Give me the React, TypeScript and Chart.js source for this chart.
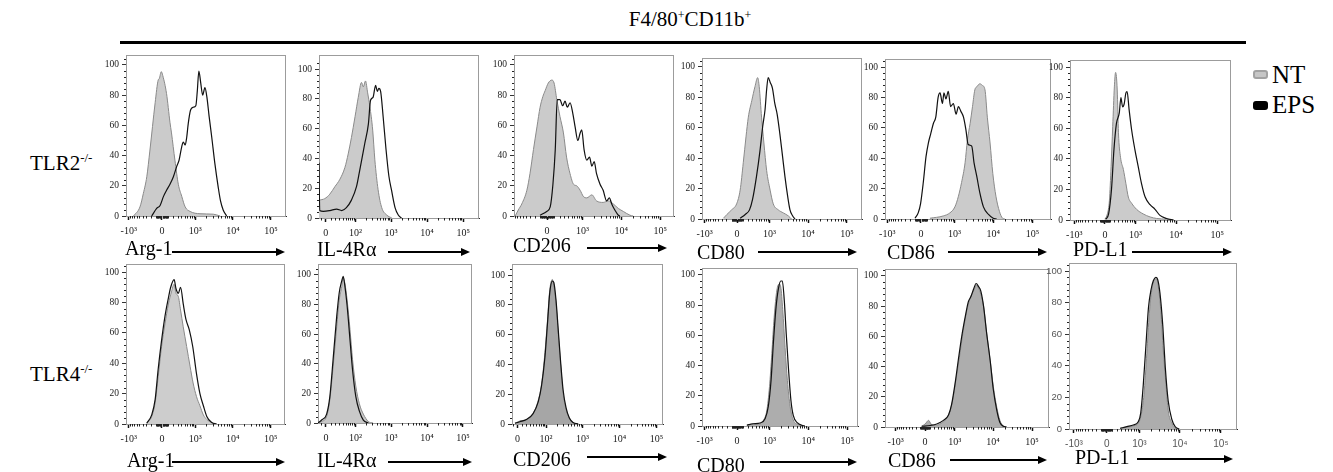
import React, { useEffect, useRef } from "react";
import { Chart, registerables } from "chart.js";

Chart.register(...registerables);

type Pt = [number, number];

// x values are in biexponential display decades (asinh(v / cofactor) / ln10), y = % of max
// ---------- TLR2-/- row ----------
const TLR2_ARG1_NT: Pt[] = [[-0.75,0],[-0.58,6],[-0.49,15],[-0.40,26],[-0.32,43],[-0.18,75],[-0.10,90],[-0.07,91],[-0.02,95.6],[0.02,93],[0.12,81],[0.21,62],[0.25,55],[0.34,37],[0.43,21],[0.52,13],[0.61,6],[0.74,3],[1.0,1.5],[1.35,1.2],[1.53,0]];
const TLR2_ARG1_EPS: Pt[] = [[-0.27,0],[-0.14,5],[-0.05,7],[0.04,13],[0.12,17],[0.21,21],[0.30,26],[0.39,33],[0.45,37],[0.52,46],[0.56,49],[0.61,47],[0.65,52],[0.69,61],[0.75,70],[0.82,72],[0.89,73],[0.93,83],[0.97,96],[1.02,88],[1.07,80],[1.13,85],[1.18,79],[1.24,66],[1.31,52],[1.39,35],[1.48,19],[1.54,10],[1.61,4],[1.70,0]];
const TLR2_IL4RA_NT: Pt[] = [[-0.19,12],[-0.03,13],[0.11,16],[0.25,21],[0.39,26],[0.53,34],[0.62,43],[0.71,54],[0.81,68],[0.90,81],[0.99,91],[1.04,88],[1.10,92],[1.16,84],[1.22,75],[1.30,59],[1.36,39],[1.45,19],[1.55,7],[1.69,2],[1.83,0]];
const TLR2_IL4RA_EPS: Pt[] = [[-0.19,37],[-0.17,5],[-0.07,4.5],[0.11,5],[0.30,6],[0.44,5],[0.57,7],[0.71,12],[0.85,21],[0.94,32],[1.08,50],[1.18,63],[1.24,79],[1.31,81],[1.38,89],[1.43,85],[1.47,87],[1.52,85],[1.59,68],[1.67,46],[1.75,28],[1.82,19],[1.92,7],[2.01,2],[2.10,0]];
const TLR2_CD206_NT: Pt[] = [[-0.82,0],[-0.74,4],[-0.65,8],[-0.52,17],[-0.44,28],[-0.35,44],[-0.26,59],[-0.18,72],[-0.11,79],[-0.05,83],[0.03,88],[0.12,90],[0.18,88],[0.25,77],[0.33,66],[0.42,55],[0.50,39],[0.59,28],[0.68,21],[0.76,20],[0.85,17],[0.93,13],[1.02,12],[1.15,14],[1.27,10],[1.44,9],[1.57,10],[1.70,8],[1.83,5],[1.96,3],[2.13,0.5],[2.21,0]];
const TLR2_CD206_EPS: Pt[] = [[-0.18,0.5],[-0.01,3],[0.08,6],[0.15,21],[0.21,44],[0.26,77],[0.33,77],[0.40,73],[0.46,76],[0.52,72],[0.59,75],[0.66,68],[0.72,59],[0.79,50],[0.85,55],[0.89,57],[0.95,44],[1.02,37],[1.09,39],[1.15,33],[1.21,36],[1.27,28],[1.36,21],[1.44,17],[1.53,10],[1.60,12],[1.66,8],[1.74,4],[1.83,0.5],[1.87,0]];
const TLR2_CD80_NT: Pt[] = [[-0.35,0.5],[-0.26,3],[-0.14,6],[-0.01,10],[0.08,19],[0.16,37],[0.23,54],[0.29,67],[0.38,78],[0.46,87],[0.53,93],[0.57,87],[0.63,67],[0.69,50],[0.76,32],[0.85,19],[0.93,10],[1.06,6],[1.19,4],[1.32,2],[1.40,0]];
const TLR2_CD80_EPS: Pt[] = [[0.08,0.5],[0.21,3],[0.32,6],[0.40,13],[0.50,28],[0.59,45],[0.66,61],[0.72,72],[0.76,85],[0.80,93],[0.85,90],[0.91,86],[0.97,76],[1.03,69],[1.10,56],[1.17,41],[1.23,28],[1.30,15],[1.36,6],[1.43,2],[1.49,0]];
const TLR2_CD86_NT: Pt[] = [[0.23,0.5],[0.57,2],[0.74,4],[0.87,8],[0.96,15],[1.04,24],[1.13,37],[1.19,52],[1.26,63],[1.32,74],[1.38,85],[1.43,87],[1.51,89],[1.57,88],[1.64,85],[1.70,67],[1.77,50],[1.84,30],[1.92,15],[2.01,5],[2.09,0.5],[2.15,0]];
const TLR2_CD86_EPS: Pt[] = [[-0.15,0.5],[-0.07,4],[-0.01,10],[0.06,24],[0.13,41],[0.19,50],[0.25,56],[0.32,63],[0.38,67],[0.44,80],[0.49,83],[0.55,76],[0.59,83],[0.64,79],[0.70,84],[0.76,74],[0.83,76],[0.90,69],[0.96,74],[1.02,71],[1.09,67],[1.15,59],[1.21,49],[1.30,48],[1.36,37],[1.43,28],[1.51,17],[1.60,8],[1.73,3],[1.85,0.5],[1.94,0]];
const TLR2_PDL1_NT: Pt[] = [[0,0.5],[0.06,4],[0.11,13],[0.15,35],[0.19,61],[0.23,87],[0.26,96.5],[0.30,85],[0.33,57],[0.38,41],[0.45,33],[0.51,24],[0.57,15],[0.65,11],[0.77,7],[0.93,4],[1.10,2],[1.26,1],[1.50,0.5],[1.67,0]];
const TLR2_PDL1_EPS: Pt[] = [[0.02,0.5],[0.09,4],[0.16,20],[0.22,46],[0.28,63],[0.35,70],[0.39,80],[0.43,74],[0.47,76],[0.51,83],[0.54,84],[0.59,72],[0.65,59],[0.73,46],[0.81,35],[0.89,24],[0.98,15],[1.10,10],[1.22,7],[1.34,3],[1.50,1],[1.67,0]];

// ---------- TLR4-/- row ----------
const TLR4_ARG1_NT: Pt[] = [[-0.40,0.5],[-0.27,5],[-0.18,14],[-0.10,31],[-0.01,51],[0.08,66],[0.17,79],[0.25,87],[0.32,92],[0.37,86],[0.43,84],[0.49,75],[0.56,64],[0.65,51],[0.74,38],[0.82,27],[0.91,18],[1.00,12],[1.09,6],[1.18,3],[1.31,1],[1.39,0]];
const TLR4_ARG1_EPS: Pt[] = [[-0.40,0.5],[-0.27,6],[-0.18,16],[-0.10,36],[-0.01,55],[0.08,71],[0.17,83],[0.23,90],[0.32,95],[0.37,89],[0.43,86],[0.49,90],[0.56,79],[0.63,69],[0.72,62],[0.81,51],[0.91,33],[1.00,20],[1.09,12],[1.18,5],[1.31,1],[1.44,0]];
const TLR4_IL4RA_NT: Pt[] = [[-0.21,0],[-0.12,1],[0.02,4.5],[0.11,16],[0.20,38],[0.30,65],[0.37,83],[0.44,92],[0.48,98],[0.53,94],[0.59,83],[0.67,63],[0.74,43],[0.83,25],[0.93,13],[1.04,6],[1.18,1],[1.31,0]];
const TLR4_IL4RA_EPS: Pt[] = [[-0.22,0],[-0.12,2],[0.02,6],[0.11,18],[0.20,43],[0.30,72],[0.37,88],[0.44,96],[0.48,99],[0.53,92],[0.59,79],[0.67,56],[0.74,36],[0.83,18],[0.93,8],[1.04,2],[1.18,0]];
const TLR4_CD206_NT: Pt[] = [[-0.07,0.5],[0.06,2],[0.24,3],[0.42,7],[0.56,16],[0.65,27],[0.74,48],[0.81,70],[0.87,90],[0.94,97],[0.98,93],[1.04,81],[1.10,61],[1.16,41],[1.23,21],[1.31,10],[1.40,4],[1.50,1],[1.64,0]];
const TLR4_CD206_EPS: Pt[] = [[-0.07,0.5],[0.06,1.5],[0.24,3],[0.42,7],[0.56,15],[0.65,26],[0.74,45],[0.81,68],[0.87,88],[0.94,96],[0.98,95],[1.04,83],[1.10,63],[1.16,43],[1.23,23],[1.31,11],[1.40,4],[1.50,1],[1.64,0]];
const TLR4_CD80_NT: Pt[] = [[0.25,0.5],[0.42,1.5],[0.55,1],[0.68,4],[0.76,10],[0.83,26],[0.89,48],[0.95,72],[1.02,90],[1.08,94],[1.12,92],[1.17,77],[1.23,52],[1.29,30],[1.36,13],[1.44,4],[1.57,1],[1.70,0]];
const TLR4_CD80_EPS: Pt[] = [[0.25,0.5],[0.42,1.5],[0.59,2],[0.72,5],[0.80,13],[0.87,30],[0.93,55],[1.00,79],[1.06,91],[1.12,96],[1.16,96],[1.21,83],[1.26,61],[1.32,37],[1.38,17],[1.44,7],[1.55,2],[1.66,0.5],[1.74,0]];
const TLR4_CD86_NT: Pt[] = [[-0.09,0.5],[0,2],[0.09,4.4],[0.15,2],[0.26,1],[0.38,2],[0.51,4.4],[0.62,9],[0.71,18],[0.79,31],[0.88,46],[0.98,64],[1.07,77],[1.14,84],[1.20,88],[1.26,91],[1.31,94],[1.37,92],[1.43,88],[1.50,80],[1.58,62],[1.67,44],[1.75,27],[1.84,13],[1.92,4.4],[2.01,0.5],[2.09,0]];
const TLR4_CD86_EPS: Pt[] = [[-0.09,0.5],[0.13,1],[0.30,2],[0.47,4.4],[0.60,8],[0.68,15],[0.77,29],[0.85,44],[0.94,60],[1.03,73],[1.11,83],[1.17,86],[1.24,91],[1.31,95],[1.37,93],[1.43,90],[1.50,80],[1.58,62],[1.67,44],[1.75,25],[1.84,11],[1.92,3],[2.01,0.5],[2.09,0]];
const TLR4_PDL1_NT: Pt[] = [[0.33,0.4],[0.49,1],[0.65,2],[0.77,3.6],[0.85,10],[0.91,22],[0.98,48],[1.04,73],[1.10,88],[1.15,94],[1.22,95],[1.26,90],[1.32,75],[1.38,50],[1.45,27],[1.50,12],[1.59,3.6],[1.67,0.4],[1.75,0]];
const TLR4_PDL1_EPS: Pt[] = [[0.33,0.4],[0.49,1.5],[0.65,2.5],[0.77,4.6],[0.83,10],[0.89,27],[0.96,54],[1.02,77],[1.08,88],[1.14,94],[1.20,96],[1.24,95],[1.30,86],[1.37,65],[1.43,39],[1.50,18],[1.59,6],[1.67,1.5],[1.77,0]];

// ---------- tick labels ----------
const TICKS_NEG = [-1000, 0, 1000, 10000, 100000];
const TICKS_NEG_LABELS = ["-10³", "0", "10³", "10⁴", "10⁵"];
const TICKS_LOW = [0, 100, 1000, 10000, 100000];
const TICKS_LOW_LABELS = ["0", "10²", "10³", "10⁴", "10⁵"];
const TICKS_POS = [0, 1000, 10000, 100000];
const TICKS_POS_LABELS = ["0", "10³", "10⁴", "10⁵"];
const Y_TICKS = [0, 20, 40, 60, 80, 100];

const MARKERS = ["Arg-1", "IL-4Rα", "CD206", "CD80", "CD86", "PD-L1"];
const ROW_LABELS = ["TLR2", "TLR4"];
const LEGEND_LABELS = ["NT", "EPS"];
const TITLE_PARTS = ["F4/80", "CD11b"];

const LN10 = Math.log(10);
const toDisplay = (v: number, c: number) => Math.asinh(v / c) / LN10;

const SERIF = '"Liberation Serif", "DejaVu Serif", serif';
const SANS = '"Liberation Sans", Arial, sans-serif';

const YW = 32;
const PT = 3;
const PR = 6;
const XH = 30;

type PanelSpec = {
  nt: Pt[]; eps: Pt[]; marker: string;
  ticks: number[]; tickLabels: string[];
  c: number; dMin: number; dMax: number;
  left: number; right: number; top: number; bottom: number; yMax: number;
  fill: string; sans?: boolean;
  labelX: number; labelY: number; arrowFrom: number; arrowTo: number; arrowY: number;
};

const PANELS: PanelSpec[] = [
  { nt: TLR2_ARG1_NT, eps: TLR2_ARG1_EPS, marker: MARKERS[0], ticks: TICKS_NEG, tickLabels: TICKS_NEG_LABELS, c: 272, dMin: -0.947, dMax: 3.263, left: 126, right: 286, top: 55, bottom: 216, yMax: 106.6, fill: "#cbcbcb", labelX: 125, labelY: 238, arrowFrom: 172, arrowTo: 285, arrowY: 252 },
  { nt: TLR2_IL4RA_NT, eps: TLR2_IL4RA_EPS, marker: MARKERS[1], ticks: TICKS_LOW, tickLabels: TICKS_LOW_LABELS, c: 31, dMin: -0.19, dMax: 4.25, left: 319, right: 479, top: 55, bottom: 218, yMax: 109.4, fill: "#cbcbcb", labelX: 317, labelY: 239, arrowFrom: 388, arrowTo: 470, arrowY: 252 },
  { nt: TLR2_CD206_NT, eps: TLR2_CD206_EPS, marker: MARKERS[2], ticks: TICKS_POS, tickLabels: TICKS_POS_LABELS, c: 249, dMin: -0.85, dMax: 3.26, left: 514, right: 674, top: 55, bottom: 216, yMax: 106.6, fill: "#cbcbcb", labelX: 513, labelY: 235, arrowFrom: 587, arrowTo: 667, arrowY: 248 },
  { nt: TLR2_CD80_NT, eps: TLR2_CD80_EPS, marker: MARKERS[3], ticks: TICKS_NEG, tickLabels: TICKS_NEG_LABELS, c: 300, dMin: -0.90, dMax: 3.21, left: 702, right: 862, top: 58, bottom: 219, yMax: 105.9, fill: "#cbcbcb", labelX: 697, labelY: 242, arrowFrom: 758, arrowTo: 857, arrowY: 252 },
  { nt: TLR2_CD86_NT, eps: TLR2_CD86_EPS, marker: MARKERS[4], ticks: TICKS_NEG, tickLabels: TICKS_NEG_LABELS, c: 280, dMin: -0.92, dMax: 3.33, left: 885, right: 1051, top: 59, bottom: 219, yMax: 105.3, fill: "#cbcbcb", labelX: 887, labelY: 242, arrowFrom: 948, arrowTo: 1047, arrowY: 252 },
  { nt: TLR2_PDL1_NT, eps: TLR2_PDL1_EPS, marker: MARKERS[5], ticks: TICKS_NEG, tickLabels: TICKS_NEG_LABELS, c: 370, dMin: -0.85, dMax: 3.07, left: 1070, right: 1231, top: 60, bottom: 220, yMax: 104.6, fill: "#cbcbcb", labelX: 1073, labelY: 239, arrowFrom: 1132, arrowTo: 1232, arrowY: 252 },
  { nt: TLR4_ARG1_NT, eps: TLR4_ARG1_EPS, marker: MARKERS[0], ticks: TICKS_NEG, tickLabels: TICKS_NEG_LABELS, c: 272, dMin: -0.947, dMax: 3.24, left: 126, right: 285, top: 264, bottom: 424, yMax: 105.3, fill: "#cdcdcd", labelX: 127, labelY: 450, arrowFrom: 172, arrowTo: 285, arrowY: 462 },
  { nt: TLR4_IL4RA_NT, eps: TLR4_IL4RA_EPS, marker: MARKERS[1], ticks: TICKS_LOW, tickLabels: TICKS_LOW_LABELS, c: 31, dMin: -0.22, dMax: 4.06, left: 318, right: 472, top: 264, bottom: 423, yMax: 107.4, fill: "#c8c8c8", labelX: 317, labelY: 450, arrowFrom: 388, arrowTo: 472, arrowY: 462 },
  { nt: TLR4_CD206_NT, eps: TLR4_CD206_EPS, marker: MARKERS[2], ticks: TICKS_LOW, tickLabels: TICKS_LOW_LABELS, c: 35, dMin: -0.15, dMax: 3.93, left: 512, right: 663, top: 264, bottom: 424, yMax: 107.4, fill: "#a6a6a6", labelX: 513, labelY: 449, arrowFrom: 587, arrowTo: 667, arrowY: 457 },
  { nt: TLR4_CD80_NT, eps: TLR4_CD80_EPS, marker: MARKERS[3], ticks: TICKS_NEG, tickLabels: TICKS_NEG_LABELS, c: 300, dMin: -0.90, dMax: 3.10, left: 702, right: 858, top: 268, bottom: 426, yMax: 104.6, fill: "#adadad", labelX: 697, labelY: 455, arrowFrom: 760, arrowTo: 857, arrowY: 462 },
  { nt: TLR4_CD86_NT, eps: TLR4_CD86_EPS, marker: MARKERS[4], ticks: TICKS_NEG, tickLabels: TICKS_NEG_LABELS, c: 360, dMin: -1.03, dMax: 3.18, left: 885, right: 1049, top: 269, bottom: 427, yMax: 104.6, fill: "#adadad", labelX: 888, labelY: 450, arrowFrom: 950, arrowTo: 1047, arrowY: 460 },
  { nt: TLR4_PDL1_NT, eps: TLR4_PDL1_EPS, marker: MARKERS[5], ticks: TICKS_NEG, tickLabels: TICKS_NEG_LABELS, c: 326, dMin: -0.92, dMax: 3.18, left: 1069, right: 1237, top: 263, bottom: 429, yMax: 105.1, fill: "#adadad", sans: true, labelX: 1075, labelY: 447, arrowFrom: 1137, arrowTo: 1233, arrowY: 459 },
];

function Histogram({ p }: { p: PanelSpec }) {
  const ref = useRef<HTMLCanvasElement | null>(null);
  const w = p.right - p.left + YW + PR;
  const h = p.bottom - p.top + PT + XH;

  useEffect(() => {
    const canvas = ref.current;
    if (!canvas) return;
    const tickColor = p.sans ? "#555" : "#1a1a1a";
    const family = p.sans ? SANS : SERIF;
    const majorD = p.ticks.map((v) => toDisplay(v, p.c));

    const decor = {
      id: "decor",
      beforeDatasetsDraw(chart: any) {
        const { ctx, chartArea } = chart;
        ctx.save();
        ctx.strokeStyle = "#9c9c9c";
        ctx.lineWidth = 1;
        ctx.strokeRect(chartArea.left + 0.5, chartArea.top + 0.5, chartArea.right - chartArea.left - 1, chartArea.bottom - chartArea.top);
        ctx.restore();
      },
      afterDraw(chart: any) {
        const { ctx, chartArea, scales } = chart;
        const xs = scales.x;
        const ys = scales.y;
        ctx.save();
        ctx.strokeStyle = "#222";
        ctx.lineWidth = 1;
        ctx.beginPath();
        for (let e = 1; e <= 4; e++) {
          for (let m = 1; m <= 9; m++) {
            const v = m * Math.pow(10, e);
            for (const s of [1, -1]) {
              const val = s * v;
              if (p.ticks.includes(val)) continue;
              const d = toDisplay(val, p.c);
              const px = xs.getPixelForValue(d);
              if (px < chartArea.left || px > chartArea.right) continue;
              const x = Math.round(px) + 0.5;
              ctx.moveTo(x, chartArea.bottom);
              ctx.lineTo(x, chartArea.bottom + 2.5);
            }
          }
        }
        for (let v = 4; v <= 104; v += 4) {
          if (v % 20 === 0) continue;
          if (v > p.yMax) continue;
          const y = Math.round(ys.getPixelForValue(v)) + 0.5;
          ctx.moveTo(chartArea.left - 2, y);
          ctx.lineTo(chartArea.left, y);
        }
        ctx.stroke();
        ctx.restore();
      },
    };

    const chart = new Chart(canvas, {
      type: "line",
      data: {
        datasets: [
          {
            label: LEGEND_LABELS[1],
            data: p.eps.map(([x, y]) => ({ x, y })),
            borderColor: "#111",
            borderWidth: 1.2,
            pointRadius: 0,
            fill: false,
            order: 0,
            cubicInterpolationMode: "monotone",
          },
          {
            label: LEGEND_LABELS[0],
            data: p.nt.map(([x, y]) => ({ x, y })),
            borderColor: "#8a8a8a",
            backgroundColor: p.fill,
            borderWidth: 1,
            pointRadius: 0,
            fill: "origin",
            order: 1,
            cubicInterpolationMode: "monotone",
          },
        ],
      } as any,
      options: {
        animation: false,
        responsive: false,
        events: [],
        layout: { padding: { top: PT, right: PR, left: 0, bottom: 0 } },
        plugins: { legend: { display: false }, tooltip: { enabled: false } },
        scales: {
          x: {
            type: "linear",
            min: p.dMin,
            max: p.dMax,
            afterBuildTicks: (s: any) => {
              s.ticks = majorD.map((v) => ({ value: v }));
            },
            afterFit: (s: any) => {
              s.height = XH;
              s.paddingLeft = 0;
              s.paddingRight = 0;
            },
            ticks: {
              autoSkip: false,
              maxRotation: 0,
              minRotation: 0,
              padding: 5,
              color: tickColor,
              font: { family, size: 10 },
              callback: (_v: any, i: number) => p.tickLabels[i],
            },
            grid: { drawOnChartArea: false, tickLength: 4, tickWidth: 1.5, tickColor: "#111" },
            border: { color: "#222", width: 1 },
          },
          y: {
            min: 0,
            max: p.yMax,
            afterBuildTicks: (s: any) => {
              s.ticks = Y_TICKS.map((v) => ({ value: v }));
            },
            afterFit: (s: any) => {
              s.width = YW;
              s.paddingTop = 0;
              s.paddingBottom = 0;
            },
            ticks: {
              padding: 3,
              color: tickColor,
              font: { family, size: 9.5 },
              callback: (v: any) => String(v),
            },
            grid: { drawOnChartArea: false, tickLength: 4, tickWidth: 1, tickColor: "#333" },
            border: { color: "#555", width: 1 },
          },
        },
      } as any,
      plugins: [decor],
    });
    return () => chart.destroy();
  }, []);

  return (
    <canvas
      ref={ref}
      width={w}
      height={h}
      style={{ position: "absolute", left: p.left - YW, top: p.top - PT, width: w, height: h }}
    />
  );
}

function AxisLabel({ p }: { p: PanelSpec }) {
  const len = p.arrowTo - p.arrowFrom;
  return (
    <>
      <div
        style={{
          position: "absolute",
          left: p.labelX,
          top: p.labelY,
          fontFamily: SERIF,
          fontSize: 20,
          lineHeight: "20px",
          color: "#000",
          whiteSpace: "nowrap",
        }}
      >
        {p.marker}
      </div>
      <svg
        style={{ position: "absolute", left: p.arrowFrom, top: p.arrowY - 5, overflow: "visible" }}
        width={len}
        height={10}
      >
        <line x1={0} y1={5} x2={len - 7} y2={5} stroke="#000" strokeWidth={2} />
        <polygon points={`${len - 9},1 ${len},5 ${len - 9},9`} fill="#000" />
      </svg>
    </>
  );
}

export default function App() {
  return (
    <div
      style={{
        position: "absolute",
        left: 0,
        top: 0,
        width: 1333,
        height: 472,
        background: "#fff",
        overflow: "hidden",
        fontFamily: SERIF,
        color: "#000",
      }}
    >
      {/* title */}
      <div
        style={{
          position: "absolute",
          left: 490,
          width: 400,
          top: 9,
          textAlign: "center",
          fontSize: 21,
          lineHeight: "21px",
          whiteSpace: "nowrap",
        }}
      >
        {TITLE_PARTS[0]}
        <span style={{ fontSize: 12, position: "relative", top: -7 }}>+</span>
        {TITLE_PARTS[1]}
        <span style={{ fontSize: 12, position: "relative", top: -7 }}>+</span>
      </div>
      <div style={{ position: "absolute", left: 120, top: 41, width: 1126, height: 3, background: "#000" }} />

      {/* row labels */}
      {ROW_LABELS.map((r, i) => (
        <div
          key={r}
          style={{
            position: "absolute",
            left: 30,
            top: i === 0 ? 153 : 364,
            fontSize: 21,
            lineHeight: "21px",
            whiteSpace: "nowrap",
          }}
        >
          {r}
          <span style={{ fontSize: 13, position: "relative", top: -8 }}>-/-</span>
        </div>
      ))}

      {/* legend */}
      <div style={{ position: "absolute", left: 1253, top: 70, width: 15, height: 9, background: "#c6c6c6", border: "2px solid #a2a2a2", borderRadius: 3, boxSizing: "border-box" }} />
      <div style={{ position: "absolute", left: 1272, top: 62, fontSize: 25, lineHeight: "25px" }}>{LEGEND_LABELS[0]}</div>
      <div style={{ position: "absolute", left: 1253, top: 101, width: 15, height: 9, background: "#000", borderRadius: 3 }} />
      <div style={{ position: "absolute", left: 1272, top: 92, fontSize: 25, lineHeight: "25px" }}>{LEGEND_LABELS[1]}</div>

      {PANELS.map((p, i) => (
        <Histogram key={"h" + i} p={p} />
      ))}
      {PANELS.map((p, i) => (
        <AxisLabel key={"a" + i} p={p} />
      ))}
    </div>
  );
}
